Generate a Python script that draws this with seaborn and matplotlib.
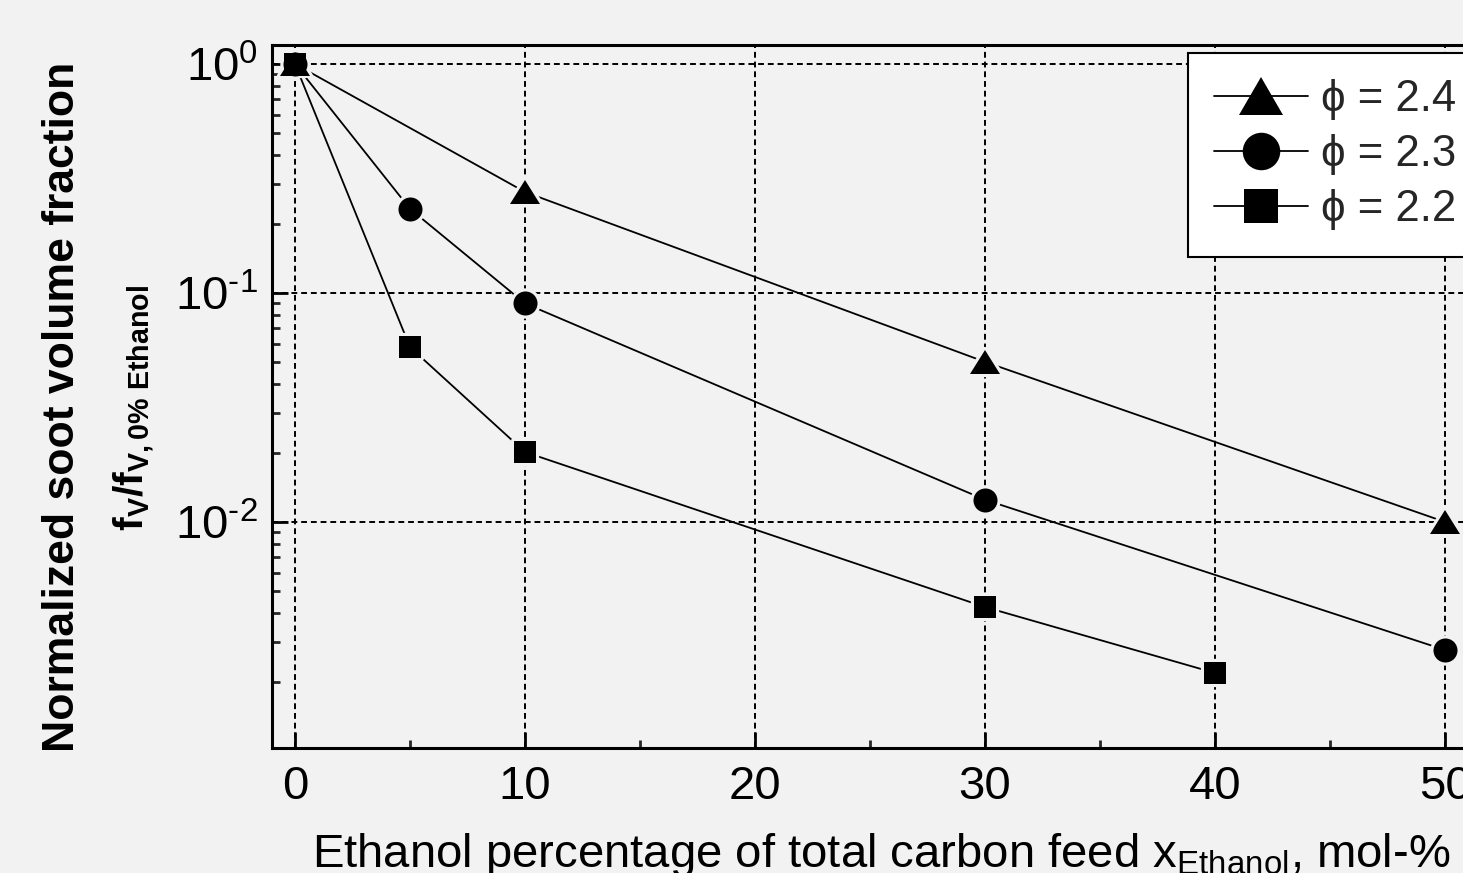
import numpy as np
import pandas as pd
import seaborn as sns
import matplotlib.pyplot as plt
from matplotlib.lines import Line2D
from matplotlib.markers import MarkerStyle
from matplotlib.transforms import Affine2D
from matplotlib.ticker import LogLocator, MultipleLocator, NullFormatter, FuncFormatter

# values
x_phi24 = [0, 10, 30, 50]
y_phi24 = [1.0, 0.276, 0.050, 0.0100]
x_phi23 = [0, 5, 10, 30, 50]
y_phi23 = [1.0, 0.233, 0.090, 0.0125, 0.00276]
x_phi22 = [0, 5, 10, 30, 40]
y_phi22 = [1.0, 0.058, 0.0202, 0.00425, 0.00219]
labels = ["\u03d5 = 2.4", "\u03d5 = 2.3", "\u03d5 = 2.2"]
xticks = [0, 10, 20, 30, 40, 50]

BG = "#f2f2f2"

sns.set_theme(style="ticks")
plt.rcParams["font.family"] = ["Liberation Sans", "DejaVu Sans"]
plt.rcParams["mathtext.fontset"] = "custom"
plt.rcParams["mathtext.rm"] = "Liberation Sans"
plt.rcParams["mathtext.it"] = "Liberation Sans:italic"
plt.rcParams["mathtext.bf"] = "Liberation Sans:bold"
plt.rcParams["mathtext.default"] = "regular"
plt.rcParams["axes.unicode_minus"] = False

fig = plt.figure(figsize=(14.63, 8.73), dpi=100, facecolor=BG)
# axes runs past the right edge, like the cropped original
ax = fig.add_axes([272 / 1463, 1 - 748 / 873, (1491 - 272) / 1463, (748 - 45) / 873])
ax.set_facecolor(BG)

tri = MarkerStyle("^", joinstyle="round", transform=Affine2D().scale(1, 0.86))
circ = MarkerStyle("o", joinstyle="round")
sq = MarkerStyle("s", joinstyle="round")

series = [
    (x_phi24, y_phi24, tri, 20.9, 31),
    (x_phi23, y_phi23, circ, 17.3, 27),
    (x_phi22, y_phi22, sq, 15.8, 24),
]

# pass 1: lines with background halos so they stop short of the markers
for xs, ys, m, ms, _ in series:
    df = pd.DataFrame({"x": xs, "y": ys})
    sns.lineplot(data=df, x="x", y="y", ax=ax, color="black", lw=1.3,
                 marker=m, markersize=ms, markerfacecolor=BG,
                 markeredgecolor=BG, markeredgewidth=4.5, zorder=3)
# pass 2: solid markers on top
for xs, ys, m, ms, _ in series:
    df = pd.DataFrame({"x": xs, "y": ys})
    sns.lineplot(data=df, x="x", y="y", ax=ax, color="black", linestyle="none",
                 marker=m, markersize=ms, markerfacecolor="black",
                 markeredgewidth=0, zorder=4)

ax.set_yscale("log")
ax.set_xlim(-1, 52)
ax.set_ylim(1.03e-3, 1.21)
ax.set_xticks(xticks)
ax.xaxis.set_minor_locator(MultipleLocator(5))
ax.yaxis.set_major_locator(LogLocator(base=10, numticks=10))
ax.yaxis.set_minor_locator(LogLocator(base=10, subs=np.arange(2, 10), numticks=20))
ax.yaxis.set_minor_formatter(NullFormatter())


def pow10(v, pos):
    e = int(round(np.log10(v)))
    if e < 0:
        return r"$10^{\text{-}%d}$" % (-e)
    return r"$10^{%d}$" % e


ax.yaxis.set_major_formatter(FuncFormatter(pow10))

ax.tick_params(which="major", direction="in", length=11.5, width=2, labelsize=34,
               pad=10, colors="black", top=False, right=False)
ax.tick_params(axis="x", which="major", pad=12)
ax.tick_params(which="minor", direction="in", length=6, width=2, top=False, right=False)
for s in ax.spines.values():
    s.set_color("black")
    s.set_linewidth(2.2)

ax.grid(True, which="major", color="black", lw=1.4, linestyle=(0, (3, 2)))
ax.set_axisbelow(True)

ax.set_xlabel("Ethanol percentage of total carbon feed x$_{Ethanol}$, mol-%",
              fontsize=34, color="black")
ax.xaxis.set_label_coords(0.5, -0.118)
ax.set_ylabel("")

fig.text(63 / 1463, 1 - 407 / 873, "Normalized soot volume fraction", rotation=90,
         ha="center", va="center", fontsize=32, fontweight="bold", color="black")
fig.text(134 / 1463, 1 - 408 / 873, r"$\mathbf{f_V/f_{V,0\%\ Ethanol}}$", rotation=90,
         ha="center", va="center", fontsize=29.5, color="black")

handles = [Line2D([], [], color="black", lw=1.3, marker=m, markersize=lms,
                  markerfacecolor="black", markeredgewidth=0)
           for _, _, m, _, lms in series]
leg = ax.legend(handles, labels, loc="upper left",
                bbox_to_anchor=(1188 / 1463, 1 - 53 / 873), bbox_transform=fig.transFigure,
                borderaxespad=0, fontsize=31.5, frameon=True, fancybox=False,
                framealpha=1, edgecolor="black", facecolor="white",
                handlelength=2.15, handletextpad=0.3, labelspacing=0.32, borderpad=0.6)
leg.get_frame().set_linewidth(1.5)

fig.savefig("out.png", dpi=100, facecolor=BG)
